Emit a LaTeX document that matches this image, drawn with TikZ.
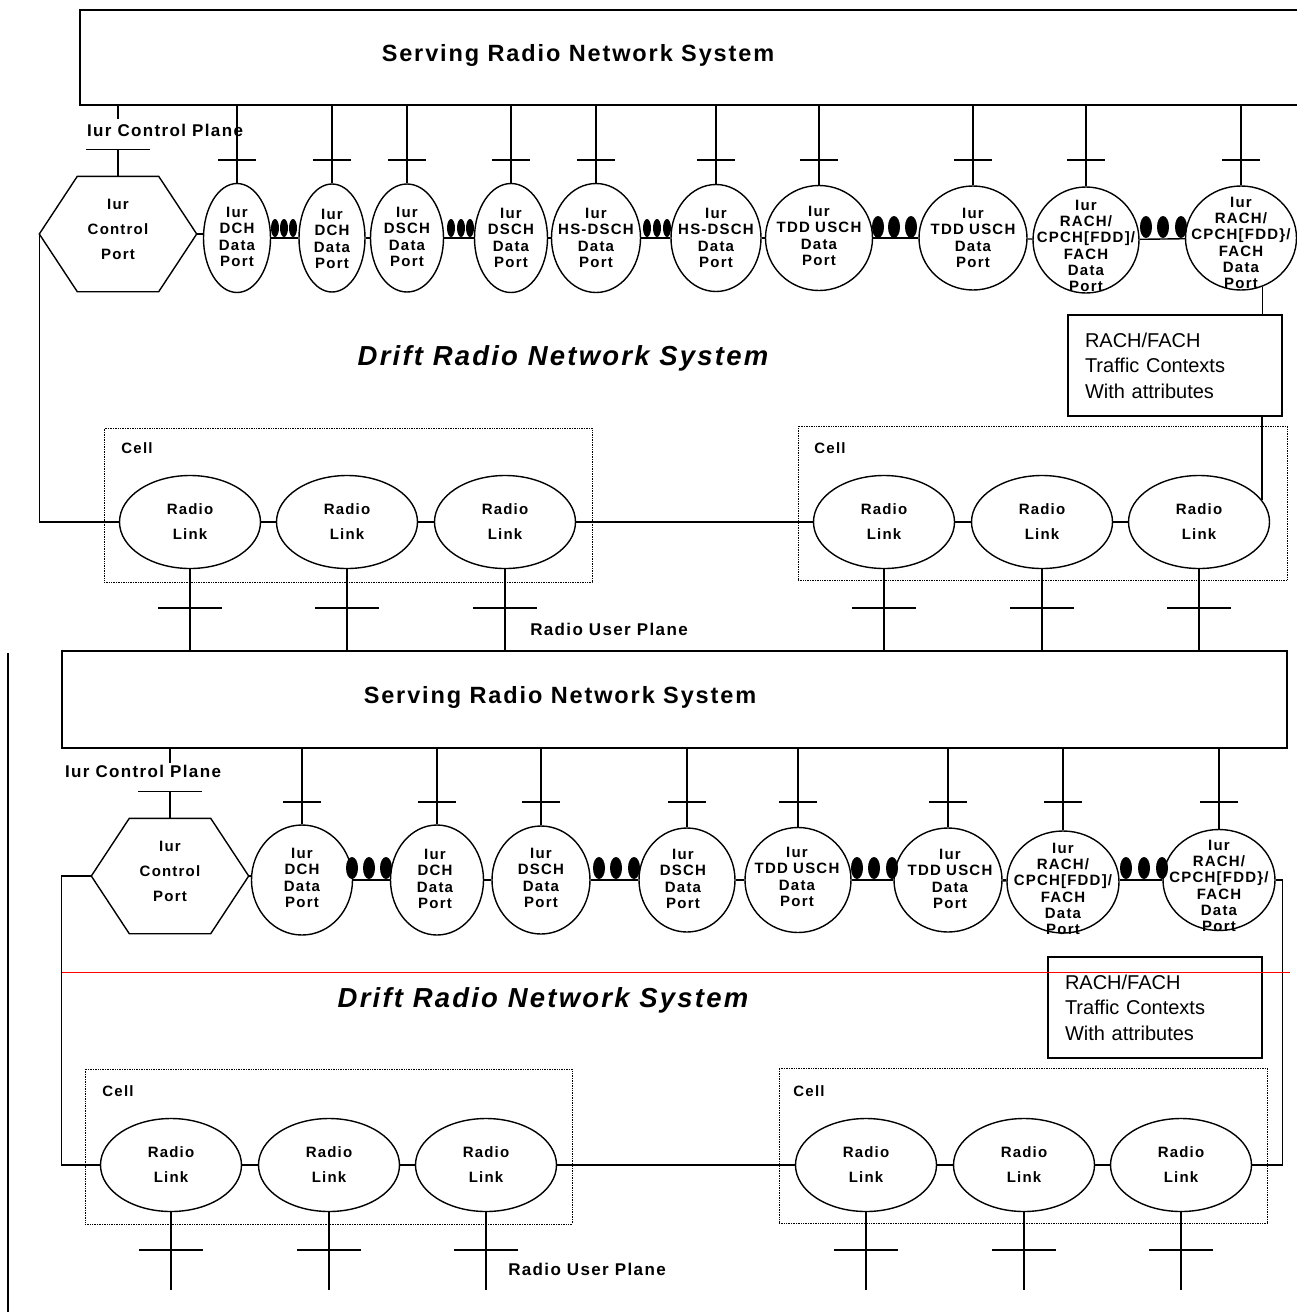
\documentclass[tikz,border=0pt]{standalone}
\usepackage{fontspec}
\setmainfont{Liberation Sans}
\newfontfamily\lblfont{Liberation Sans}[LetterSpace=8]
\usepackage{tikz}
\usetikzlibrary{shapes.geometric}
\definecolor{markred}{RGB}{255,0,0}

\begin{document}
\begin{tikzpicture}[
    x=1pt, y=-1pt,
    line width=1.4pt,
    % Styles
    sysbox/.style={draw, rectangle, inner sep=0pt},
    port/.style={draw, ellipse, inner sep=0pt},
    hexport/.style={rectangle, inner sep=0pt,
        minimum width=156pt, minimum height=114pt},
    link/.style={draw, ellipse, inner sep=0pt,
        minimum width=141pt, minimum height=93pt},
    cellbox/.style={draw, densely dotted, line width=0.7pt, inner sep=0pt},
    ctxbox/.style={draw, rectangle, minimum height=101pt,
        text width=180pt, inner xsep=17pt, align=left,
        font=\fontsize{20}{25.5}\selectfont},
    porttext/.style={align=center, inner sep=0pt,
        font=\lblfont\bfseries\fontsize{15}{16.3}\selectfont},
    linktext/.style={align=center, inner sep=0pt,
        font=\lblfont\bfseries\fontsize{15}{25}\selectfont},
    planetext/.style={inner sep=0pt,
        font=\lblfont\bfseries\fontsize{17}{20}\selectfont},
    celltext/.style={inner sep=0pt,
        font=\lblfont\bfseries\fontsize{15}{18}\selectfont},
    titletext/.style={inner sep=0pt,
        font=\lblfont\bfseries\fontsize{23.5}{28}\selectfont},
    drifttext/.style={inner sep=0pt,
        font=\lblfont\bfseries\itshape\fontsize{27.5}{32}\selectfont},
    dot/.style={ellipse, fill, inner sep=0pt,
        minimum width=8pt, minimum height=18pt},
    bigdot/.style={ellipse, fill, inner sep=0pt,
        minimum width=12pt, minimum height=22pt}
]

\useasboundingbox (0,0) rectangle (1297,1312);

% Rows of the crossbars
\coordinate (bar1) at (0,160);
\coordinate (bar2) at (0,608);
\coordinate (bar3) at (0,802);
\coordinate (bar4) at (0,1250);
\coordinate (bot) at (0,1290);

% ===== Upper figure =====

% Serving system
\node[sysbox, minimum width=1230pt, minimum height=95pt] (srns1) at (695,57.5) {};
\node[titletext] (title1) at (578,55) {Serving Radio Network System};

% Iur control port
\node[hexport] (cp1) at (118,234) {};
\draw (cp1.west) -- ([xshift=38pt]cp1.north west) -- ([xshift=-38pt]cp1.north east)
    -- (cp1.east) -- ([xshift=-38pt]cp1.south east) -- ([xshift=38pt]cp1.south west) -- cycle;
\node[linktext] (cpt1) at (118,229) {Iur\\Control\\Port};
\node[planetext] (cpl1) at (165,130) {Iur Control Plane};
\draw (cp1.north |- srns1.south) -- ++(0,13);
\draw (cp1.north) -- ++(0,-27);
\draw ([shift={(-32pt,27pt)}]cp1.north) -- ++(64,0);

% Iur data ports
\node[port, minimum width=67pt, minimum height=109pt] (p1) at (237,238) {};
\node[porttext] (t1) at (237,237) {Iur\\DCH\\Data\\Port};
\node[port, minimum width=66pt, minimum height=108pt] (p2) at (332,238) {};
\node[porttext] (t2) at (332,239) {Iur\\DCH\\Data\\Port};
\node[port, minimum width=73pt, minimum height=108pt] (p3) at (407,238) {};
\node[porttext] (t3) at (407,237) {Iur\\DSCH\\Data\\Port};
\node[port, minimum width=73pt, minimum height=109pt] (p4) at (511,238) {};
\node[porttext] (t4) at (511,238) {Iur\\DSCH\\Data\\Port};
\node[port, minimum width=89pt, minimum height=109pt] (p5) at (596,238) {};
\node[porttext] (t5) at (596,238) {Iur\\HS-DSCH\\Data\\Port};
\node[port, minimum width=90pt, minimum height=107pt] (p6) at (716,238) {};
\node[porttext] (t6) at (716,238) {Iur\\HS-DSCH\\Data\\Port};
\node[port, minimum width=107pt, minimum height=105pt] (p7) at (819,238) {};
\node[porttext] (t7) at (819,236) {Iur\\TDD USCH\\Data\\Port};
\node[port, minimum width=108pt, minimum height=104pt] (p8) at (973,238) {};
\node[porttext] (t8) at (973,238) {Iur\\TDD USCH\\Data\\Port};
\node[port, minimum width=106pt, minimum height=106pt] (p9) at (1086,240) {};
\node[porttext] (t9) at (1086,246) {Iur\\RACH/\\CPCH[FDD]/\\FACH\\Data\\Port};
\node[port, minimum width=111pt, minimum height=104pt] (p10) at (1241,238) {};
\node[porttext] (t10) at (1241,243) {Iur\\RACH/\\CPCH[FDD\}/\\FACH\\Data\\Port};

% Connectors to the serving system
\draw (p1 |- srns1.south) -- (p1.north);   \draw ([xshift=-19pt]p1 |- bar1) -- ++(38,0);
\draw (p2 |- srns1.south) -- (p2.north);   \draw ([xshift=-19pt]p2 |- bar1) -- ++(38,0);
\draw (p3 |- srns1.south) -- (p3.north);   \draw ([xshift=-19pt]p3 |- bar1) -- ++(38,0);
\draw (p4 |- srns1.south) -- (p4.north);   \draw ([xshift=-19pt]p4 |- bar1) -- ++(38,0);
\draw (p5 |- srns1.south) -- (p5.north);   \draw ([xshift=-19pt]p5 |- bar1) -- ++(38,0);
\draw (p6 |- srns1.south) -- (p6.north);   \draw ([xshift=-19pt]p6 |- bar1) -- ++(38,0);
\draw (p7 |- srns1.south) -- (p7.north);   \draw ([xshift=-19pt]p7 |- bar1) -- ++(38,0);
\draw (p8 |- srns1.south) -- (p8.north);   \draw ([xshift=-19pt]p8 |- bar1) -- ++(38,0);
\draw (p9 |- srns1.south) -- (p9.north);   \draw ([xshift=-19pt]p9 |- bar1) -- ++(38,0);
\draw (p10 |- srns1.south) -- (p10.north); \draw ([xshift=-19pt]p10 |- bar1) -- ++(38,0);

% Chain of ports
\draw (cp1.east) -- (p1.west |- cp1.east);
\draw (p1) -- (p2);  \draw (p2) -- (p3);  \draw (p3) -- (p4);
\draw (p4) -- (p5);  \draw (p5) -- (p6);  \draw (p6) -- (p7);
\draw (p7) -- (p8);  \draw (p8) -- (p9);  \draw (p9) -- (p10);

% Dots
\node[dot] (d11) at (275,228) {};  \node[dot] (d12) at (284,228) {};  \node[dot] (d13) at (293,228) {};
\node[dot] (d21) at (451,228) {};  \node[dot] (d22) at (461,228) {};  \node[dot] (d23) at (470,228) {};
\node[dot] (d31) at (647,228) {};  \node[dot] (d32) at (657,228) {};  \node[dot] (d33) at (667,228) {};
\node[bigdot] (d41) at (878,227) {};  \node[bigdot] (d42) at (894,227) {};  \node[bigdot] (d43) at (911,227) {};
\node[bigdot] (d51) at (1146,227) {}; \node[bigdot] (d52) at (1163,227) {}; \node[bigdot] (d53) at (1181,227) {};

% Drift system
\node[drifttext] (drift1) at (563,358) {Drift Radio Network System};
\node[ctxbox] (ctx1) at (1175,365.5) {RACH/FACH\\Traffic Contexts\\With attributes};

% Cells
\node[cellbox, minimum width=488pt, minimum height=154pt] (cell1) at (348,505) {};
\node[celltext] (ct1) at (137,448) {Cell};
\node[cellbox, minimum width=489pt, minimum height=154pt] (cell2) at (1042.5,503) {};
\node[celltext] (ct2) at (830,448) {Cell};

% Radio links
\node[link] (rl1) at (190,522) {};  \node[linktext] (lt1) at (rl1) {Radio\\Link};
\node[link] (rl2) at (347,522) {};  \node[linktext] (lt2) at (rl2) {Radio\\Link};
\node[link] (rl3) at (505,522) {};  \node[linktext] (lt3) at (rl3) {Radio\\Link};
\node[link] (rl4) at (884,522) {};  \node[linktext] (lt4) at (rl4) {Radio\\Link};
\node[link] (rl5) at (1042,522) {}; \node[linktext] (lt5) at (rl5) {Radio\\Link};
\node[link] (rl6) at (1199,522) {}; \node[linktext] (lt6) at (rl6) {Radio\\Link};

\draw (cp1.west) |- (rl1.west);
\draw (rl1) -- (rl2);  \draw (rl2) -- (rl3);  \draw (rl3) -- (rl4);
\draw (rl4) -- (rl5);  \draw (rl5) -- (rl6);
\draw (p10.-66) -- (p10.-66 |- ctx1.north);
\draw (rl6.19) -- (rl6.19 |- ctx1.south);

% ===== Lower figure =====

% Serving system
\node[sysbox, minimum width=1225pt, minimum height=97pt] (srns2) at (674.5,699.5) {};
\node[titletext] (title2) at (560,697) {Serving Radio Network System};

% Radio user plane of the upper figure
\draw (rl1.south) -- (rl1.south |- srns2.north);  \draw ([xshift=-32pt]rl1.south |- bar2) -- ++(64,0);
\draw (rl2.south) -- (rl2.south |- srns2.north);  \draw ([xshift=-32pt]rl2.south |- bar2) -- ++(64,0);
\draw (rl3.south) -- (rl3.south |- srns2.north);  \draw ([xshift=-32pt]rl3.south |- bar2) -- ++(64,0);
\draw (rl4.south) -- (rl4.south |- srns2.north);  \draw ([xshift=-32pt]rl4.south |- bar2) -- ++(64,0);
\draw (rl5.south) -- (rl5.south |- srns2.north);  \draw ([xshift=-32pt]rl5.south |- bar2) -- ++(64,0);
\draw (rl6.south) -- (rl6.south |- srns2.north);  \draw ([xshift=-32pt]rl6.south |- bar2) -- ++(64,0);
\node[planetext] (rup1) at (609,629) {Radio User Plane};

% Iur control port
\node[hexport] (cp2) at (170,876) {};
\draw (cp2.west) -- ([xshift=38pt]cp2.north west) -- ([xshift=-38pt]cp2.north east)
    -- (cp2.east) -- ([xshift=-38pt]cp2.south east) -- ([xshift=38pt]cp2.south west) -- cycle;
\node[linktext] (cpt2) at (170,871) {Iur\\Control\\Port};
\node[planetext] (cpl2) at (143,771) {Iur Control Plane};
\draw (cp2.north |- srns2.south) -- ++(0,14);
\draw (cp2.north) -- ++(0,-27);
\draw ([shift={(-32pt,27pt)}]cp2.north) -- ++(64,0);

% Iur data ports
\node[port, minimum width=101pt, minimum height=110pt] (q1) at (302,880) {};
\node[porttext] (u1) at (302,878) {Iur\\DCH\\Data\\Port};
\node[port, minimum width=93pt, minimum height=110pt] (q2) at (437,880) {};
\node[porttext] (u2) at (435,879) {Iur\\DCH\\Data\\Port};
\node[port, minimum width=98pt, minimum height=108pt] (q3) at (541,880) {};
\node[porttext] (u3) at (541,878) {Iur\\DSCH\\Data\\Port};
\node[port, minimum width=96pt, minimum height=104pt] (q4) at (687,880) {};
\node[porttext] (u4) at (683,879) {Iur\\DSCH\\Data\\Port};
\node[port, minimum width=106pt, minimum height=105pt] (q5) at (798,880) {};
\node[porttext] (u5) at (797,877) {Iur\\TDD USCH\\Data\\Port};
\node[port, minimum width=108pt, minimum height=104pt] (q6) at (948,880) {};
\node[porttext] (u6) at (950,879) {Iur\\TDD USCH\\Data\\Port};
\node[port, minimum width=112pt, minimum height=102pt] (q7) at (1063,882) {};
\node[porttext] (u7) at (1063,889) {Iur\\RACH/\\CPCH[FDD]/\\FACH\\Data\\Port};
\node[port, minimum width=112pt, minimum height=101pt] (q8) at (1219,880) {};
\node[porttext] (u8) at (1219,886) {Iur\\RACH/\\CPCH[FDD\}/\\FACH\\Data\\Port};

% Connectors to the serving system
\draw (q1 |- srns2.south) -- (q1.north);  \draw ([xshift=-19pt]q1 |- bar3) -- ++(38,0);
\draw (q2 |- srns2.south) -- (q2.north);  \draw ([xshift=-19pt]q2 |- bar3) -- ++(38,0);
\draw (q3 |- srns2.south) -- (q3.north);  \draw ([xshift=-19pt]q3 |- bar3) -- ++(38,0);
\draw (q4 |- srns2.south) -- (q4.north);  \draw ([xshift=-19pt]q4 |- bar3) -- ++(38,0);
\draw (q5 |- srns2.south) -- (q5.north);  \draw ([xshift=-19pt]q5 |- bar3) -- ++(38,0);
\draw (q6 |- srns2.south) -- (q6.north);  \draw ([xshift=-19pt]q6 |- bar3) -- ++(38,0);
\draw (q7 |- srns2.south) -- (q7.north);  \draw ([xshift=-19pt]q7 |- bar3) -- ++(38,0);
\draw (q8 |- srns2.south) -- (q8.north);  \draw ([xshift=-19pt]q8 |- bar3) -- ++(38,0);

% Chain of ports
\draw (cp2.east) -- (q1.west |- cp2.east);
\draw (q1) -- (q2);  \draw (q2) -- (q3);  \draw (q3) -- (q4);
\draw (q4) -- (q5);  \draw (q5) -- (q6);  \draw (q6) -- (q7);
\draw (q7.west |- q8) -- (q6.east |- q8);  \draw (q7.east |- q8) -- (q8.west);

% Dots
\node[bigdot] (e11) at (352,868) {};  \node[bigdot] (e12) at (369,868) {};  \node[bigdot] (e13) at (386,868) {};
\node[bigdot] (e21) at (599,868) {};  \node[bigdot] (e22) at (616,868) {};  \node[bigdot] (e23) at (634,868) {};
\node[bigdot] (e31) at (857,868) {};  \node[bigdot] (e32) at (874,868) {};  \node[bigdot] (e33) at (892,868) {};
\node[bigdot] (e41) at (1126,868) {}; \node[bigdot] (e42) at (1144,868) {}; \node[bigdot] (e43) at (1162,868) {};

% Drift system
\node[drifttext] (drift2) at (543,1000) {Drift Radio Network System};
\node[ctxbox] (ctx2) at (1155,1007.5) {RACH/FACH\\Traffic Contexts\\With attributes};

% Cells
\node[cellbox, minimum width=487pt, minimum height=155pt] (cell3) at (328.5,1146.5) {};
\node[celltext] (ct3) at (118,1091) {Cell};
\node[cellbox, minimum width=488pt, minimum height=155pt] (cell4) at (1023,1145.5) {};
\node[celltext] (ct4) at (809,1091) {Cell};

% Radio links
\node[link] (rl7) at (171,1165) {};   \node[linktext] (lt7) at (rl7) {Radio\\Link};
\node[link] (rl8) at (329,1165) {};   \node[linktext] (lt8) at (rl8) {Radio\\Link};
\node[link] (rl9) at (486,1165) {};   \node[linktext] (lt9) at (rl9) {Radio\\Link};
\node[link] (rl10) at (866,1165) {};  \node[linktext] (lt10) at (rl10) {Radio\\Link};
\node[link] (rl11) at (1024,1165) {}; \node[linktext] (lt11) at (rl11) {Radio\\Link};
\node[link] (rl12) at (1181,1165) {}; \node[linktext] (lt12) at (rl12) {Radio\\Link};

\draw (cp2.west) -- ++(-30,0) |- (rl7.west);
\draw (rl7) -- (rl8);  \draw (rl8) -- (rl9);  \draw (rl9) -- (rl10);
\draw (rl10) -- (rl11);  \draw (rl11) -- (rl12);
\draw (q8.east) -- ++(7,0) |- (rl12.east);

% Radio user plane
\draw (rl7.south) -- (rl7.south |- bot);    \draw ([xshift=-32pt]rl7.south |- bar4) -- ++(64,0);
\draw (rl8.south) -- (rl8.south |- bot);    \draw ([xshift=-32pt]rl8.south |- bar4) -- ++(64,0);
\draw (rl9.south) -- (rl9.south |- bot);    \draw ([xshift=-32pt]rl9.south |- bar4) -- ++(64,0);
\draw (rl10.south) -- (rl10.south |- bot);  \draw ([xshift=-32pt]rl10.south |- bar4) -- ++(64,0);
\draw (rl11.south) -- (rl11.south |- bot);  \draw ([xshift=-32pt]rl11.south |- bar4) -- ++(64,0);
\draw (rl12.south) -- (rl12.south |- bot);  \draw ([xshift=-32pt]rl12.south |- bar4) -- ++(64,0);
\node[planetext] (rup2) at (587,1269) {Radio User Plane};

% Margin line and red mark
\coordinate (edge1) at (8,653);
\coordinate (edge2) at (8,1312);
\draw (edge1) -- (edge2);
\coordinate (red1) at (62,972);
\coordinate (red2) at (1290,972);
\draw[markred, line width=1pt] (red1) -- (red2);

\end{tikzpicture}
\end{document}
